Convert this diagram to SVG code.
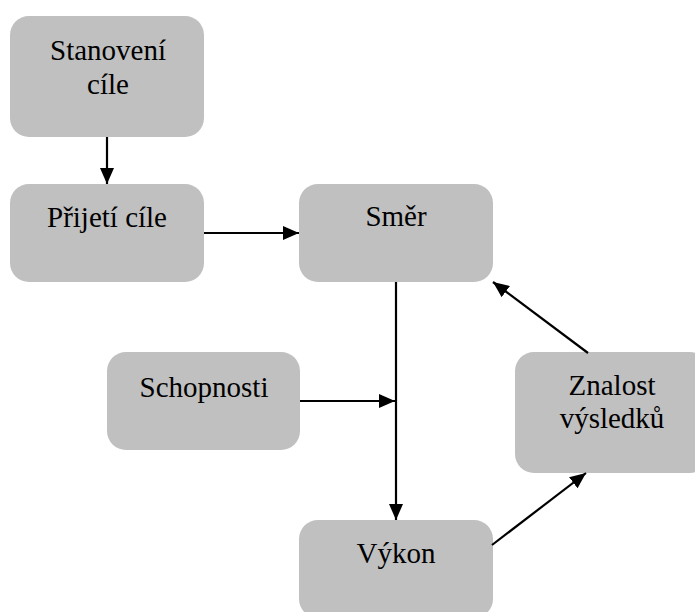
<svg xmlns="http://www.w3.org/2000/svg" width="695" height="612" viewBox="0 0 695 612">
<style>
.box{fill:#c0c0c0;}
.t{font-family:"Liberation Serif","Times New Roman",serif;font-size:29px;fill:#000;text-anchor:middle;}
.c{stroke:#000;stroke-width:2.2;fill:none;marker-end:url(#ah);}
</style>
<defs>
<marker id="ah" markerUnits="userSpaceOnUse" viewBox="0 0 16 14" refX="16" refY="7" markerWidth="16" markerHeight="14" orient="auto">
<path d="M0,0 L16,7 L0,14 z" fill="#000"/>
</marker>
</defs>
<rect width="695" height="612" fill="#fff"/>
<g id="n1"><rect class="box" x="10" y="16" width="194" height="121" rx="19"/><text class="t" x="108" y="60">Stanovení</text><text class="t" x="108" y="94">cíle</text></g>
<g id="n2"><rect class="box" x="10" y="184" width="194" height="98" rx="19"/><text class="t" x="107" y="227">Přijetí cíle</text></g>
<g id="n3"><rect class="box" x="299" y="184" width="194" height="98" rx="19"/><text class="t" x="396" y="226">Směr</text></g>
<g id="n4"><rect class="box" x="107" y="352" width="193" height="98" rx="19"/><text class="t" x="204" y="397">Schopnosti</text></g>
<g id="n5"><rect class="box" x="299" y="520" width="194" height="98" rx="19"/><text class="t" x="396" y="563">Výkon</text></g>
<g id="n6"><rect class="box" x="515" y="352" width="194" height="121" rx="19"/><text class="t" x="612" y="395">Znalost</text><text class="t" x="612" y="428">výsledků</text></g>
<g id="connectors">
<line class="c" x1="107" y1="137" x2="107" y2="184"/>
<line class="c" x1="204" y1="233" x2="299" y2="233"/>
<line class="c" x1="396" y1="282" x2="396" y2="520"/>
<line class="c" x1="300" y1="401" x2="395" y2="401"/>
<line class="c" x1="492" y1="545" x2="586" y2="473"/>
<line class="c" x1="588" y1="353" x2="493" y2="282"/>
</g>
</svg>
